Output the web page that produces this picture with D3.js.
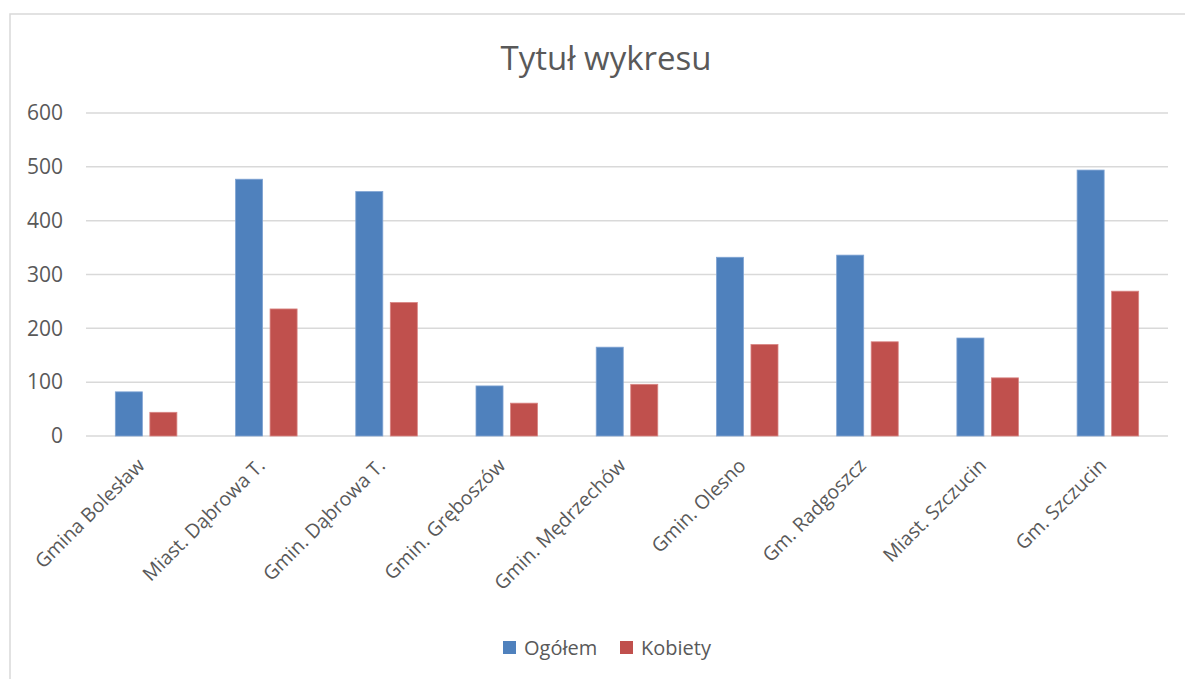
<!DOCTYPE html>
<html>
<head>
<meta charset="utf-8">
<script src="https://cdn.jsdelivr.net/npm/d3@7"></script>
<style>
    body { margin: 0; background: #fff; }
    svg text { font-family: "Open Sans", sans-serif; fill: #595959; }
</style>
</head>
<body>
<svg id="chart" width="1185" height="679"></svg>
<script>
// Data
var categories = ["Gmina Bolesław", "Miast. Dąbrowa T.", "Gmin. Dąbrowa T.", "Gmin. Gręboszów",
    "Gmin. Mędrzechów", "Gmin. Olesno", "Gm. Radgoszcz", "Miast. Szczucin", "Gm. Szczucin"];
var seriesNames = ["Ogółem", "Kobiety"];
var ogolem = [82, 477, 454, 93, 165, 332, 336, 182, 494];
var kobiety = [44, 236, 248, 61, 96, 170, 175, 108, 269];
var yTicks = [0, 100, 200, 300, 400, 500, 600];

var colors = ["#4f81bd", "#c0504d"];
var strokes = ["#7fa3d3", "#d98583"];

var svg = d3.select("#chart");

var margin = { left: 86, right: 1168, top: 113, bottom: 436 };

// chart border
svg.append("rect")
    .attr("x", 10)
    .attr("y", 14)
    .attr("width", 1200)
    .attr("height", 700)
    .style("fill", "none")
    .style("stroke", "#d9d9d9")
    .style("stroke-width", 1.5);

svg.append("text")
    .attr("x", 606)
    .attr("y", 70)
    .attr("text-anchor", "middle")
    .style("font-size", "33px")
    .text("Tytuł wykresu");

var x0 = d3.scaleBand()
    .domain(categories)
    .range([margin.left, margin.right])
    .paddingInner(0.488)
    .paddingOuter(0.244);

var x1 = d3.scaleBand()
    .domain(seriesNames)
    .range([0, x0.bandwidth()])
    .paddingInner(0.217);

var y = d3.scaleLinear()
    .domain([0, 600])
    .range([margin.bottom, margin.top]);

// gridlines
svg.append("g")
    .selectAll("line")
    .data(yTicks)
    .enter()
    .append("line")
    .attr("x1", margin.left)
    .attr("x2", margin.right)
    .attr("y1", d => y(d))
    .attr("y2", d => y(d))
    .style("stroke", "#d9d9d9")
    .style("stroke-width", 1.5);

// y axis labels
var yAxis = svg.append("g")
    .attr("transform", "translate(" + (margin.left - 23) + ",0)")
    .call(d3.axisLeft(y).tickValues(yTicks).tickSize(0).tickPadding(0));
yAxis.select(".domain").remove();
yAxis.selectAll("text")
    .style("font-size", "21px")
    .style("fill", "#595959")
    .attr("font-family", null);

// bars
var rows = categories.map(function (c, i) {
    return { cat: c, values: [ogolem[i], kobiety[i]] };
});

var groups = svg.append("g")
    .selectAll("g")
    .data(rows)
    .enter()
    .append("g")
    .attr("transform", d => "translate(" + x0(d.cat) + ",0)");

groups.selectAll("rect")
    .data(d => d.values.map(function (v, j) { return { name: seriesNames[j], value: v, j: j }; }))
    .enter()
    .append("rect")
    .attr("x", d => x1(d.name))
    .attr("width", x1.bandwidth())
    .attr("y", d => y(d.value))
    .attr("height", d => y(0) - y(d.value))
    .style("fill", d => colors[d.j])
    .style("stroke", d => strokes[d.j])
    .style("stroke-width", 0.8);

// category labels
var xAxis = svg.append("g")
    .attr("transform", "translate(0," + margin.bottom + ")")
    .call(d3.axisBottom(x0).tickSize(0).tickPadding(0));
xAxis.select(".domain").remove();
xAxis.selectAll("text")
    .attr("font-family", null)
    .style("font-size", "19.5px")
    .style("fill", "#595959")
    .style("text-anchor", "end")
    .attr("dy", "0.35em")
    .attr("transform", "translate(-5,26) rotate(-45)");

// legend
var legend = svg.append("g")
    .selectAll("g")
    .data(seriesNames)
    .enter()
    .append("g")
    .attr("transform", (d, i) => "translate(" + [503, 620][i] + ",641)");

legend.append("rect")
    .attr("width", 13)
    .attr("height", 13)
    .style("fill", (d, i) => colors[i]);

legend.append("text")
    .attr("x", 21)
    .attr("y", 14)
    .style("font-size", "20px")
    .text(d => d);
</script>
</body>
</html>
